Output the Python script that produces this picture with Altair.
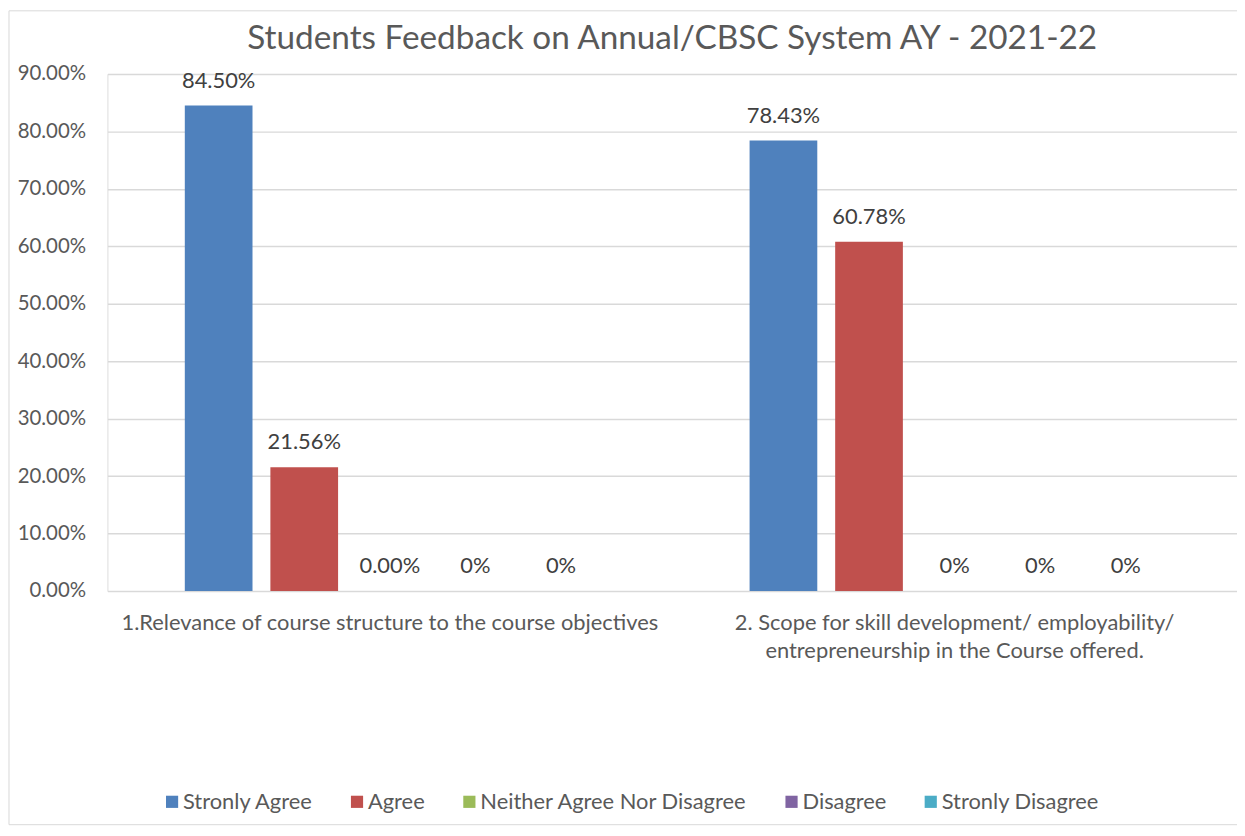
import altair as alt
import pandas as pd

questions = [
    "1.Relevance of course structure to the course objectives",
    "2. Scope for skill development/ employability/\nentrepreneurship in the Course offered.",
]
series = ["Stronly Agree", "Agree", "Neither Agree Nor Disagree", "Disagree", "Stronly Disagree"]
colors = ["#4f81bd", "#c0504d", "#9bbb59", "#8064a2", "#4bacc6"]
values_q1 = [0.8450, 0.2156, 0.0, 0.0, 0.0]
values_q2 = [0.7843, 0.6078, 0.0, 0.0, 0.0]
labels_q1 = ["84.50%", "21.56%", "0.00%", "0%", "0%"]
labels_q2 = ["78.43%", "60.78%", "0%", "0%", "0%"]
y_ticks = [0.0, 0.1, 0.2, 0.3, 0.4, 0.5, 0.6, 0.7, 0.8, 0.9]
title_text = "Students Feedback on Annual/CBSC System AY - 2021-22"

rows = []
for q, vals, labs in [(questions[0], values_q1, labels_q1), (questions[1], values_q2, labels_q2)]:
    for s, v, l in zip(series, vals, labs):
        rows.append({"question": q, "series": s, "value": v, "label": l})
df = pd.DataFrame(rows)

FONT = "Lato"
W, H = 1136, 520

x_enc = alt.X(
    "question:N",
    sort=questions,
    title=None,
    scale=alt.Scale(paddingInner=0, paddingOuter=0),
    axis=alt.Axis(
        labelExpr="split(datum.label, '\\n')",
        labelAngle=0,
        labelFontSize=22,
        labelColor="#595959",
        labelFont=FONT,
        labelLineHeight=28,
        labelPadding=22,
        ticks=False,
        domain=False,
        grid=False,
        labelLimit=1000,
    ),
)
xoff_enc = alt.XOffset(
    "series:N",
    sort=series,
    scale=alt.Scale(paddingInner=0.209, paddingOuter=0.904),
)
y_enc = alt.Y(
    "value:Q",
    title=None,
    scale=alt.Scale(domain=[0, 0.9], nice=False),
    axis=alt.Axis(
        values=y_ticks,
        format=".2%",
        labelFontSize=20.5,
        labelColor="#595959",
        labelFont=FONT,
        labelPadding=22,
        ticks=False,
        domain=False,
        gridColor="#d9d9d9",
        gridWidth=1.5,
    ),
)

base = alt.Chart(df)

bars = base.mark_bar().encode(
    x=x_enc,
    xOffset=xoff_enc,
    y=y_enc,
    color=alt.Color(
        "series:N",
        sort=series,
        scale=alt.Scale(domain=series, range=colors),
        legend=alt.Legend(
            title=None,
            orient="none",
            direction="horizontal",
            legendX=54,
            legendY=721,
            symbolType="square",
            symbolSize=150,
            symbolStrokeWidth=0,
            labelFontSize=22,
            labelColor="#595959",
            labelFont=FONT,
            labelOffset=0,
            columnPadding=33,
            columns=5,
            labelLimit=500,
        ),
    ),
)

text = base.mark_text(
    baseline="alphabetic", dy=-18, fontSize=22, color="#404040", font=FONT
).encode(
    x=alt.X("question:N", sort=questions),
    xOffset=alt.XOffset("series:N", sort=series),
    y=alt.Y("value:Q"),
    text="label:N",
)

frame = alt.Chart(pd.DataFrame({"a": [0]})).mark_rect(
    fill=None, stroke="#d9d9d9", strokeWidth=1, clip=False
).encode(
    x=alt.value(-99),
    x2=alt.value(W + 10),
    y=alt.value(-63.5),
    y2=alt.value(755),
)

chart = (
    alt.layer(frame, bars, text)
    .properties(
        width=W,
        height=H,
        title=alt.TitleParams(
            text=title_text,
            fontSize=33.5,
            font=FONT,
            color="#595959",
            fontWeight="normal",
            anchor="middle",
            baseline="alphabetic",
            offset=0,
            dy=72,
        ),
        autosize=alt.AutoSizeParams(type="none"),
        padding={"left": 100, "top": 64, "right": 0, "bottom": 236},
    )
    .configure_view(stroke=None)
    .configure(background="white")
)

chart.save("out.html", embed_options={"renderer": "svg", "actions": False})
